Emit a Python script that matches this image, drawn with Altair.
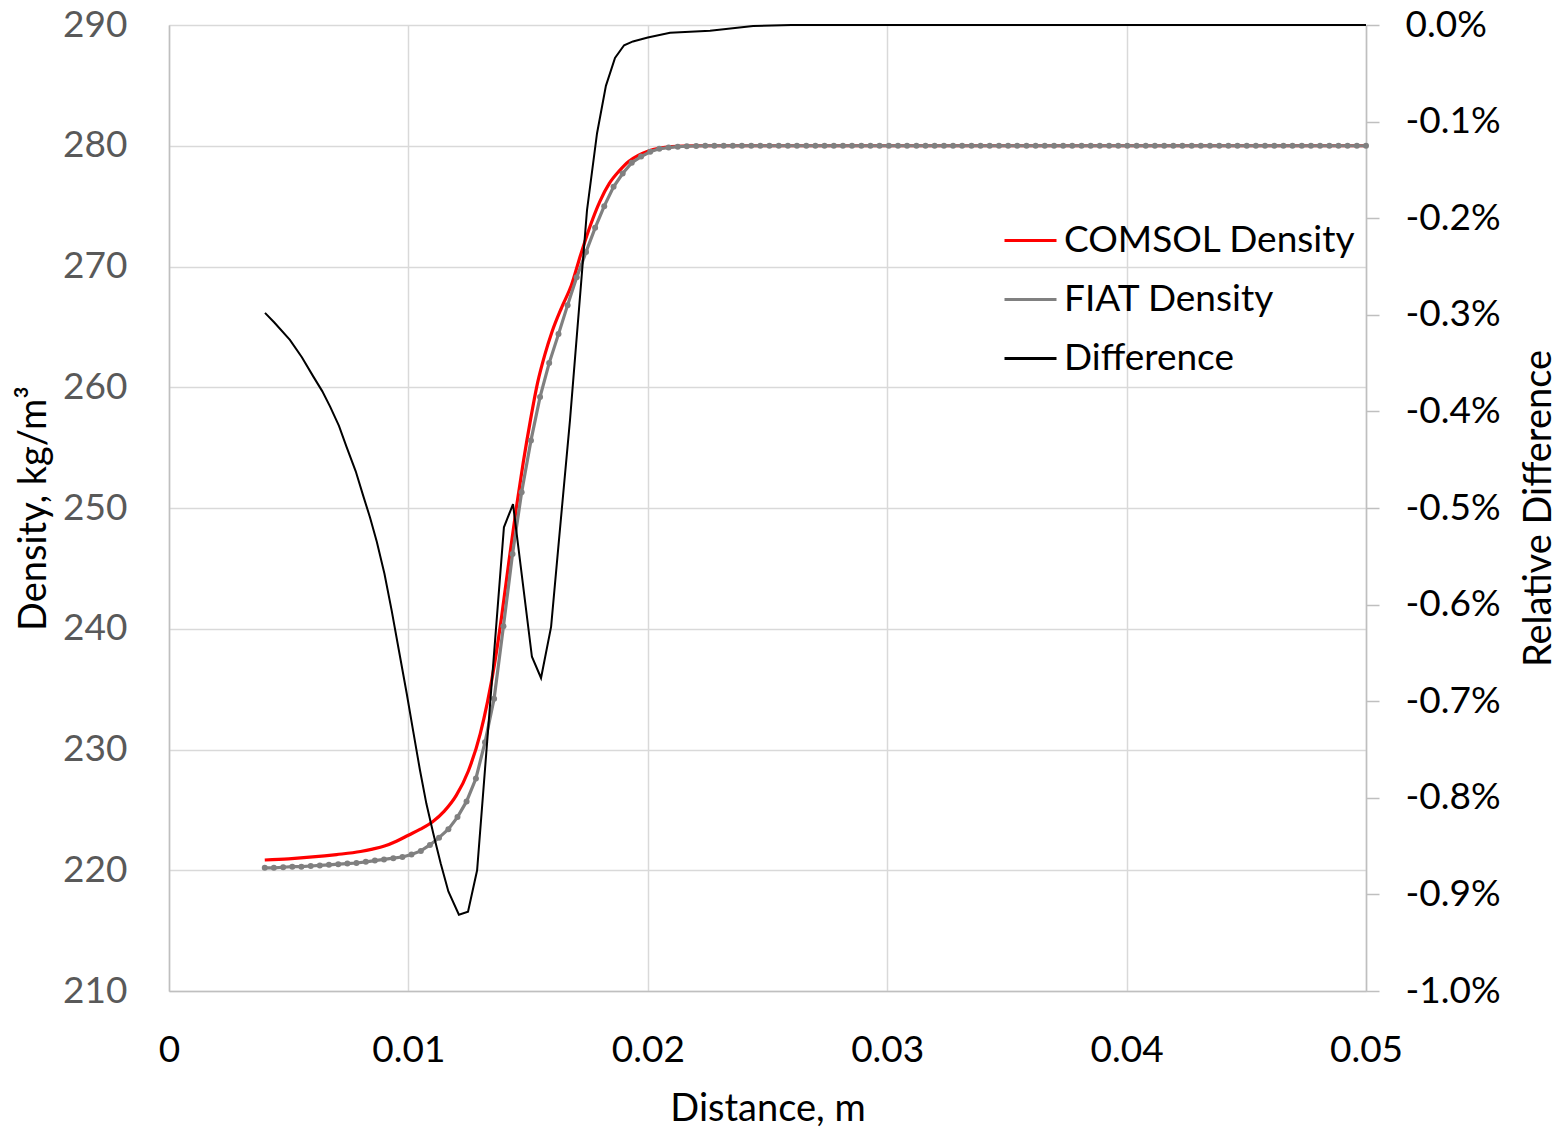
import altair as alt
import pandas as pd

# ---------------- data ----------------
comsol_x = [0.0040, 0.0050, 0.0060, 0.0070, 0.0080, 0.0085, 0.0090, 0.0095, 0.0100,
            0.0105, 0.0110, 0.0115, 0.0120, 0.0125, 0.0130, 0.0133, 0.0136, 0.0139,
            0.0142, 0.0145, 0.0148, 0.0151, 0.0154, 0.0157, 0.0160, 0.0164, 0.0168,
            0.0172, 0.0176, 0.0180, 0.0184, 0.0188, 0.0192, 0.0196, 0.0200, 0.0205,
            0.0210, 0.0220, 0.0240, 0.0300, 0.0400, 0.0500]
comsol_density = [220.85, 220.95, 221.1, 221.3, 221.55, 221.75, 222.0, 222.4, 222.9,
                  223.4, 224.0, 224.9, 226.2, 228.2, 231.3, 233.9, 237.1, 241.1,
                  245.6, 249.9, 253.8, 257.3, 260.4, 262.7, 264.6, 266.6, 268.4,
                  271.0, 273.4, 275.4, 276.9, 277.9, 278.7, 279.2, 279.55, 279.8,
                  279.92, 280.0, 280.0, 280.0, 280.0, 280.0]

fiat_x = [0.00400, 0.00438, 0.00477, 0.00515, 0.00553, 0.00592, 0.00630, 0.00668,
          0.00707, 0.00745, 0.00783, 0.00822, 0.00860, 0.00898, 0.00937, 0.00975,
          0.01013, 0.01052, 0.01090, 0.01128, 0.01167, 0.01205, 0.01243, 0.01282,
          0.01320, 0.01358, 0.01397, 0.01435, 0.01473, 0.01512, 0.01550, 0.01588,
          0.01627, 0.01665, 0.01703, 0.01742, 0.01780, 0.01818, 0.01857, 0.01895,
          0.01933, 0.01972, 0.02010, 0.02048, 0.02087, 0.02125, 0.02163, 0.02202,
          0.02240, 0.02278, 0.02317, 0.02355, 0.02393, 0.02432, 0.02470, 0.02508,
          0.02547, 0.02585, 0.02623, 0.02662, 0.02700, 0.02738, 0.02777, 0.02815,
          0.02853, 0.02892, 0.02930, 0.02968, 0.03007, 0.03045, 0.03083, 0.03122,
          0.03160, 0.03198, 0.03237, 0.03275, 0.03313, 0.03352, 0.03390, 0.03428,
          0.03467, 0.03505, 0.03543, 0.03582, 0.03620, 0.03658, 0.03697, 0.03735,
          0.03773, 0.03812, 0.03850, 0.03888, 0.03927, 0.03965, 0.04003, 0.04042,
          0.04080, 0.04118, 0.04157, 0.04195, 0.04233, 0.04272, 0.04310, 0.04348,
          0.04387, 0.04425, 0.04463, 0.04502, 0.04540, 0.04578, 0.04617, 0.04655,
          0.04693, 0.04732, 0.04770, 0.04808, 0.04847, 0.04885, 0.04923, 0.04962,
          0.05000]
fiat_density = [220.2, 220.2, 220.25, 220.3, 220.3, 220.35, 220.4, 220.45,
                220.5, 220.55, 220.6, 220.7, 220.8, 220.9, 221.0, 221.1,
                221.3, 221.6, 222.1, 222.7, 223.4, 224.4, 225.7, 227.6,
                230.6, 234.2, 240.2, 246.2, 251.3, 255.6, 259.2, 262.0,
                264.4, 266.8, 269.1, 271.2, 273.2, 275.0, 276.6, 277.7,
                278.6, 279.1, 279.5, 279.75, 279.85, 279.92, 279.96, 279.98,
                280.0, 280.0, 280.0, 280.0, 280.0, 280.0, 280.0, 280.0,
                280.0, 280.0, 280.0, 280.0, 280.0, 280.0, 280.0, 280.0,
                280.0, 280.0, 280.0, 280.0, 280.0, 280.0, 280.0, 280.0,
                280.0, 280.0, 280.0, 280.0, 280.0, 280.0, 280.0, 280.0,
                280.0, 280.0, 280.0, 280.0, 280.0, 280.0, 280.0, 280.0,
                280.0, 280.0, 280.0, 280.0, 280.0, 280.0, 280.0, 280.0,
                280.0, 280.0, 280.0, 280.0, 280.0, 280.0, 280.0, 280.0,
                280.0, 280.0, 280.0, 280.0, 280.0, 280.0, 280.0, 280.0,
                280.0, 280.0, 280.0, 280.0, 280.0, 280.0, 280.0, 280.0,
                280.0]

diff_x = [0.00401, 0.00440, 0.00505, 0.00555, 0.00603, 0.00640, 0.00673, 0.00710,
          0.00742, 0.00780, 0.00812, 0.00840, 0.00868, 0.00900, 0.00930, 0.00960,
          0.00993, 0.01020, 0.01048, 0.01075, 0.01104, 0.01135, 0.01167, 0.01211,
          0.01249, 0.01287, 0.01399, 0.01437, 0.01516, 0.01554, 0.01596, 0.01629,
          0.01675, 0.01746, 0.01788, 0.01825, 0.01863, 0.01901, 0.01938, 0.0200,
          0.02093, 0.0226, 0.0244, 0.0260, 0.0500]
diff_pct = [-0.298, -0.308, -0.326, -0.344, -0.364, -0.379, -0.395, -0.415,
            -0.437, -0.462, -0.488, -0.510, -0.535, -0.568, -0.606, -0.647,
            -0.692, -0.731, -0.771, -0.806, -0.837, -0.868, -0.897, -0.921,
            -0.918, -0.875, -0.520, -0.496, -0.654, -0.676, -0.623, -0.533,
            -0.409, -0.192, -0.112, -0.063, -0.034, -0.021, -0.017, -0.013,
            -0.008, -0.006, -0.001, 0.0, 0.0]

series_names = ["COMSOL Density", "FIAT Density", "Difference"]
series_colors = ["#FF0000", "#808080", "#000000"]

x_ticks = [0, 0.01, 0.02, 0.03, 0.04, 0.05]
left_ticks = [210, 220, 230, 240, 250, 260, 270, 280, 290]
right_ticks = [-1.0, -0.9, -0.8, -0.7, -0.6, -0.5, -0.4, -0.3, -0.2, -0.1, 0.0]

# ---------------- tables ----------------
df_comsol = pd.DataFrame({"x": comsol_x, "y": comsol_density, "series": series_names[0]})
df_fiat = pd.DataFrame({"x": fiat_x, "y": fiat_density, "series": series_names[1]})
df_diff = pd.DataFrame({"x": diff_x, "y": diff_pct, "series": series_names[2]})

FONT = "Lato"
GRID = "#d9d9d9"

color = alt.Color(
    "series:N",
    scale=alt.Scale(domain=series_names, range=series_colors),
    legend=alt.Legend(
        title=None,
        orient="none",
        legendX=834,
        legendY=188,
        symbolType="stroke",
        symbolSize=2704,
        symbolStrokeWidth=3,
        labelFontSize=37,
        labelFont=FONT,
        labelColor="#000000",
        labelOffset=6,
        rowPadding=13,
        padding=0,
        labelLimit=400,
    ),
)

x_enc = alt.X(
    "x:Q",
    scale=alt.Scale(domain=[0, 0.05], nice=False, zero=False),
    axis=alt.Axis(
        values=x_ticks,
        format="~g",
        labelFlush=False,
        labelOverlap=False,
        title="Distance, m",
        titleFontSize=38,
        titleFont=FONT,
        titleFontWeight="normal",
        titleColor="#000000",
        titleY=129,
        titleBaseline="alphabetic",
        labelFontSize=37,
        labelFont=FONT,
        labelColor="#000000",
        labelPadding=41,
        ticks=False,
        tickSize=0,
        grid=True,
        gridColor=GRID,
        gridWidth=1.5,
        domainColor="#bfbfbf",
        domainWidth=1.5,
    ),
)

y_left = alt.Y(
    "y:Q",
    scale=alt.Scale(domain=[210, 290], nice=False, zero=False),
    axis=alt.Axis(
        orient="left",
        values=left_ticks,
        title="Density, kg/m³",
        titleFontSize=38,
        titleFont=FONT,
        titleFontWeight="normal",
        titleColor="#000000",
        titleAngle=270,
        titleX=-124,
        titleY=483,
        titleAlign="center",
        titleBaseline="alphabetic",
        labelFontSize=37,
        labelFont=FONT,
        labelColor="#595959",
        labelPadding=42,
        labelFlush=False,
        ticks=False,
        tickSize=0,
        grid=True,
        gridColor=GRID,
        gridWidth=1.5,
        domainColor="#bfbfbf",
        domainWidth=1.5,
    ),
)

y_right = alt.Y(
    "y:Q",
    scale=alt.Scale(domain=[-1.0, 0.0], nice=False, zero=False),
    axis=alt.Axis(
        orient="right",
        values=right_ticks,
        labelExpr="(datum.value < 0 ? '-' : '') + format(abs(datum.value), '.1f') + '%'",
        title="Relative Difference",
        titleFontSize=38,
        titleFont=FONT,
        titleFontWeight="normal",
        titleColor="#000000",
        titleAngle=270,
        titleX=184,
        titleY=483,
        titleAlign="center",
        titleBaseline="alphabetic",
        labelFontSize=37,
        labelFont=FONT,
        labelColor="#000000",
        labelPadding=26,
        labelFlush=False,
        ticks=True,
        tickSize=13,
        tickColor="#bfbfbf",
        tickWidth=1.5,
        grid=False,
        domainColor="#bfbfbf",
        domainWidth=1.5,
    ),
)

comsol = alt.Chart(df_comsol).mark_line(strokeWidth=3.2, interpolate="monotone").encode(
    x=x_enc, y=y_left, color=color
)
fiat = alt.Chart(df_fiat).mark_line(
    strokeWidth=3.2,
    point=alt.OverlayMarkDef(filled=True, size=36, color="#808080"),
).encode(x=x_enc, y=y_left, color=color)

density = alt.layer(comsol, fiat)

diff = alt.Chart(df_diff).mark_line(strokeWidth=2).encode(
    x=x_enc, y=y_right, color=color
)

chart = (
    alt.layer(density, diff)
    .resolve_scale(y="independent")
    .properties(
        width=1197,
        height=966,
        autosize=alt.AutoSizeParams(type="none"),
        padding={"left": 169, "top": 25, "right": 191, "bottom": 140},
        background="#ffffff",
    )
    .configure_view(stroke=None)
    .configure(font=FONT)
)

chart.save("out.html", embed_options={"renderer": "svg", "actions": False})
